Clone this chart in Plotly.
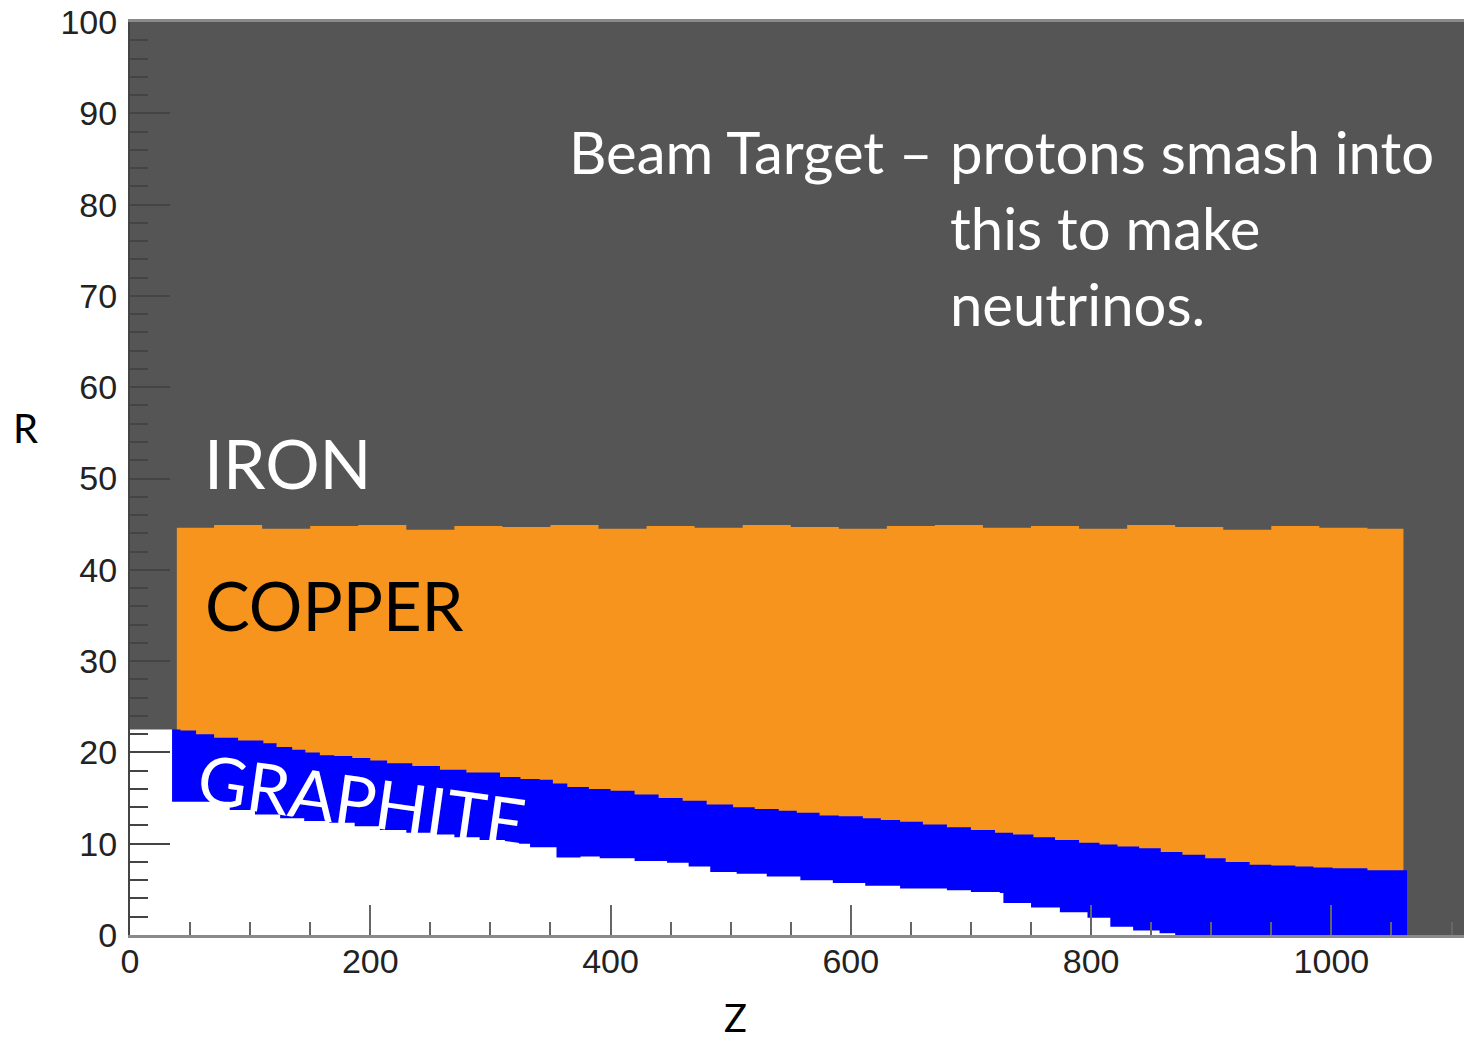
import plotly.graph_objects as go

# ---------------- data ----------------
# Copper block: jagged top edge (z, R)
copper_top_z = [39, 70, 110, 150, 190, 230, 270, 310, 350, 390, 430, 470, 510, 550,
                590, 630, 670, 710, 750, 790, 830, 870, 910, 950, 990, 1030, 1060]
copper_top_r = [44.6, 44.9, 44.5, 44.8, 44.9, 44.4, 44.8, 44.7, 44.9, 44.5, 44.8, 44.6,
                44.9, 44.7, 44.5, 44.8, 44.9, 44.6, 44.8, 44.5, 44.9, 44.7, 44.4, 44.8,
                44.6, 44.5, 44.5]

# Graphite: top boundary
graphite_top_z = [35, 42, 55, 70, 90, 111, 122, 135, 146, 158, 170, 185, 200, 214, 235,
                  258, 280, 308, 325, 341, 352, 364, 382, 400, 420, 440, 460, 480, 502,
                  520, 540, 555, 574, 590, 610, 625, 641, 660, 680, 700, 720, 735, 752,
                  770, 790, 807, 822, 840, 858, 876, 895, 912, 932, 950, 970, 985, 1001,
                  1030, 1045, 1063]
graphite_top_r = [22.5, 22.4, 22.0, 21.6, 21.3, 21.0, 20.6, 20.3, 20.0, 19.7, 19.6, 19.4,
                  19.1, 18.8, 18.5, 18.1, 17.8, 17.3, 17.1, 17.0, 16.6, 16.2, 16.0, 15.8,
                  15.4, 15.0, 14.7, 14.3, 14.0, 13.8, 13.6, 13.4, 13.1, 13.0, 12.8, 12.6,
                  12.4, 12.1, 11.8, 11.5, 11.2, 11.0, 10.7, 10.4, 10.1, 9.9, 9.7, 9.5,
                  9.1, 8.8, 8.4, 8.0, 7.7, 7.6, 7.5, 7.4, 7.3, 7.1, 7.1, 7.1]

# Graphite: bottom boundary (inner bore, white below)
graphite_bot_z = [35, 75, 83, 104, 125, 145, 166, 187, 208, 230, 250, 270, 291, 312, 333,
                  355, 375, 391, 420, 447, 465, 483, 505, 530, 558, 585, 612, 641, 680,
                  700, 724, 727, 750, 774, 797, 816, 835, 857, 870]
graphite_bot_r = [14.6, 14.6, 13.7, 13.2, 12.8, 12.5, 12.3, 11.9, 11.5, 11.2, 11.0, 10.7,
                  10.4, 10.0, 9.6, 8.5, 8.6, 8.4, 8.1, 7.9, 7.5, 6.9, 6.7, 6.4, 6.0, 5.7,
                  5.4, 5.1, 4.9, 4.7, 4.6, 3.5, 3.0, 2.5, 1.9, 0.9, 0.5, 0.2, 0.0]

# Open bore in front of the target
bore_front_z = [0, 35]
bore_front_r = [22.5, 22.5]

x_tick_vals = [0, 200, 400, 600, 800, 1000]
x_tick_text = ["0", "200", "400", "600", "800", "1000"]
y_tick_vals = [0, 10, 20, 30, 40, 50, 60, 70, 80, 90, 100]
y_tick_text = [str(v) for v in y_tick_vals]

# ---------------- styling ----------------
IRON = "#555555"
COPPER = "#F7941E"
GRAPHITE = "#0000FF"
VOID = "#FFFFFF"

fig = go.Figure()

# Copper block (drawn first; graphite and bore drawn over it)
cz = [copper_top_z[0]] + copper_top_z + [copper_top_z[-1], copper_top_z[0]]
cr = [0] + copper_top_r + [0, 0]
fig.add_trace(go.Scatter(x=cz, y=cr, mode="lines", fill="toself",
                         fillcolor=COPPER, line=dict(width=0, shape="hv", color=COPPER),
                         hoverinfo="skip", showlegend=False))

# Graphite
gz = graphite_top_z + [graphite_top_z[-1], graphite_top_z[0]]
gr = graphite_top_r + [0, 0]
fig.add_trace(go.Scatter(x=gz, y=gr, mode="lines", fill="toself",
                         fillcolor=GRAPHITE, line=dict(width=0, shape="hv", color=GRAPHITE),
                         hoverinfo="skip", showlegend=False))

# Empty bore (white)
wz = [0] + bore_front_z + graphite_bot_z + [0]
wr = [0] + bore_front_r + graphite_bot_r + [0]
fig.add_trace(go.Scatter(x=wz, y=wr, mode="lines", fill="toself",
                         fillcolor=VOID, line=dict(width=0, shape="hv", color=VOID),
                         hoverinfo="skip", showlegend=False))

TEXT_FONT = "Lato, 'Open Sans', sans-serif"
TICK_FONT = dict(family="'Liberation Sans', Arial, sans-serif", size=34, color="#222222")

annotations = [
    dict(text="IRON", x=60, y=51.8, xref="x", yref="y", xanchor="left", yanchor="middle",
         showarrow=False, font=dict(family=TEXT_FONT, size=68, color="white")),
    dict(text="COPPER", x=61, y=36.1, xref="x", yref="y", xanchor="left", yanchor="middle",
         showarrow=False, font=dict(family=TEXT_FONT, size=67, color="black")),
    dict(text="GRAPHITE", x=193, y=14.8, xref="x", yref="y", xanchor="center", yanchor="middle",
         textangle=8, showarrow=False, font=dict(family=TEXT_FONT, size=68, color="white")),
    dict(text="Beam Target \u2013", x=670, y=85.8, xref="x", yref="y", xanchor="right",
         yanchor="middle", showarrow=False, font=dict(family=TEXT_FONT, size=58, color="white")),
    dict(text="protons smash into", x=681, y=85.8, xref="x", yref="y", xanchor="left",
         yanchor="middle", showarrow=False, font=dict(family=TEXT_FONT, size=58, color="white")),
    dict(text="this to make", x=681, y=77.5, xref="x", yref="y", xanchor="left",
         yanchor="middle", showarrow=False, font=dict(family=TEXT_FONT, size=58, color="white")),
    dict(text="neutrinos.", x=681, y=69.2, xref="x", yref="y", xanchor="left",
         yanchor="middle", showarrow=False, font=dict(family=TEXT_FONT, size=58, color="white")),
    dict(text="R", x=-0.078, y=0.555, xref="paper", yref="paper", xanchor="center",
         yanchor="middle", showarrow=False, font=dict(family=TEXT_FONT, size=40, color="black")),
    dict(text="Z", x=0.454, y=-0.1172, xref="paper", yref="paper", xanchor="center",
         yanchor="bottom", showarrow=False, font=dict(family=TEXT_FONT, size=38, color="black")),
]

fig.update_layout(
    width=1464, height=1043,
    margin=dict(l=130, r=0, t=22, b=108, pad=0),
    paper_bgcolor="white",
    plot_bgcolor=IRON,
    showlegend=False,
    annotations=annotations,
)

fig.update_xaxes(
    range=[0, 1110.4], showgrid=False, zeroline=False,
    tickmode="array", tickvals=x_tick_vals, ticktext=x_tick_text,
    ticks="inside", ticklen=30, tickwidth=2, tickcolor="#666666",
    minor=dict(dtick=50, tick0=0, ticks="inside", ticklen=13, tickwidth=2,
               tickcolor="#666666", showgrid=False),
    showline=True, linecolor="#8a8a8a", linewidth=3, mirror=True,
    tickfont=TICK_FONT, ticklabelstandoff=-6,
)
fig.update_yaxes(
    range=[0, 100], showgrid=False, zeroline=False,
    tickmode="array", tickvals=y_tick_vals, ticktext=y_tick_text,
    ticks="inside", ticklen=40, tickwidth=2, tickcolor="#444444",
    minor=dict(dtick=2, tick0=0, ticks="inside", ticklen=18, tickwidth=2,
               tickcolor="#444444", showgrid=False),
    showline=True, linecolor="#444444", linewidth=2,
    tickfont=TICK_FONT, ticklabelstandoff=4,
)

fig.write_html(
    "out.html",
    config={"displayModeBar": False},
    post_script="document.body.style.margin='0px';document.body.style.overflow='hidden';",
)
